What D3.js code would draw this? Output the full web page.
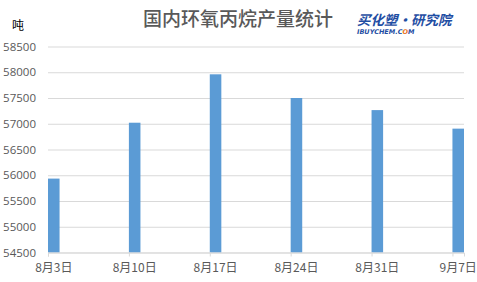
<!DOCTYPE html>
<html>
<head>
<meta charset="utf-8">
<script src="https://cdn.jsdelivr.net/npm/d3@7"></script>
<style>
  body { margin: 0; background: #fff; }
  text { font-family: "Microsoft YaHei", "Noto Sans CJK SC", sans-serif; }
</style>
</head>
<body>
<div id="app"></div>
<script>
var dates = ["2020-08-03", "2020-08-10", "2020-08-17", "2020-08-24", "2020-08-31", "2020-09-07"];
var dateLabels = ["8月3日", "8月10日", "8月17日", "8月24日", "8月31日", "9月7日"];
var output = [55935, 57020, 57960, 57500, 57265, 56905];
var yTicks = [54500, 55000, 55500, 56000, 56500, 57000, 57500, 58000, 58500];

var svgWidth = 477, svgHeight = 282;
var margin = { top: 46.5, right: 13, bottom: 29.5, left: 48 };
var planeWidth = svgWidth - margin.left - margin.right;
var planeHeight = svgHeight - margin.top - margin.bottom;

var parse = d3.timeParse("%Y-%m-%d");
var days = dates.map(parse);

var svg = d3.select("#app").append("svg")
    .attr("width", svgWidth)
    .attr("height", svgHeight);

var g = svg.append("g")
    .attr("transform", "translate(" + margin.left + "," + margin.top + ")");

// date axis, one day wide band per point
var x = d3.scaleTime()
    .domain([days[0], d3.timeDay.offset(days[days.length - 1], 1)])
    .range([0, planeWidth]);

var y = d3.scaleLinear()
    .domain([54500, 58500])
    .range([planeHeight, 0]);

// gridlines + y labels
var yAxis = d3.axisLeft(y)
    .tickValues(yTicks)
    .tickFormat(d3.format("d"))
    .tickSize(-planeWidth)
    .tickPadding(12);
g.append("g").attr("class", "y-axis").call(yAxis)
    .call(function(s) {
        s.select(".domain").remove();
        s.selectAll("line").attr("stroke", "#d9d9d9");
        s.selectAll("text").attr("fill", "#595959").style("font-size", "11.5px")
            .style("font-family", "'Open Sans', 'Noto Sans', sans-serif");
    });

// bars
g.selectAll("rect.bar")
    .data(output)
    .enter()
    .append("rect")
    .attr("class", "bar")
    .attr("x", function(d, i) { return x(days[i]); })
    .attr("width", function(d, i) { return x(d3.timeDay.offset(days[i], 1)) - x(days[i]); })
    .attr("y", function(d) { return y(d); })
    .attr("height", function(d) { return planeHeight - y(d); })
    .attr("fill", "#5b9bd5");

// x axis
var xAxis = d3.axisBottom(x)
    .tickValues(days)
    .tickSize(4)
    .tickFormat("");
var xg = g.append("g").attr("transform", "translate(0," + planeHeight + ")").call(xAxis);
xg.selectAll("path, line").attr("stroke", "#d9d9d9");

xg.selectAll("text.lbl")
    .data(dateLabels)
    .enter()
    .append("text")
    .attr("class", "lbl")
    .attr("x", function(d, i) { return (x(days[i]) + x(d3.timeDay.offset(days[i], 1))) / 2; })
    .attr("y", 19)
    .attr("text-anchor", "middle")
    .attr("fill", "#595959")
    .style("font-size", "12px")
    .text(function(d) { return d; });

// title
svg.append("text")
    .attr("x", 238)
    .attr("y", 26)
    .attr("text-anchor", "middle")
    .attr("fill", "#595959")
    .style("font-size", "19px")
    .style("font-weight", "500")
    .style("font-family", "'Noto Sans CJK SC', sans-serif")
    .text("国内环氧丙烷产量统计");

// unit
svg.append("text")
    .attr("x", 12)
    .attr("y", 30)
    .attr("fill", "#000")
    .style("font-size", "12px")
    .text("吨");

// logo
svg.append("text")
    .attr("x", 357)
    .attr("y", 25)
    .attr("fill", "#1f4ea3")
    .style("font-size", "13.5px")
    .style("font-weight", "bold")
    .style("font-style", "italic")
    .style("font-family", "'Noto Sans CJK SC', sans-serif")
    .text("买化塑·研究院");
var logoSub = svg.append("text")
    .attr("x", 357)
    .attr("y", 33.5)
    .attr("fill", "#1f4ea3")
    .style("font-size", "6.5px")
    .style("font-weight", "bold")
    .style("font-style", "italic")
    .style("font-family", "'DejaVu Sans', sans-serif");
logoSub.append("tspan").text("IBUYCHEM.C");
logoSub.append("tspan").attr("fill", "#e8731a").text("O");
logoSub.append("tspan").text("M");
</script>
</body>
</html>
